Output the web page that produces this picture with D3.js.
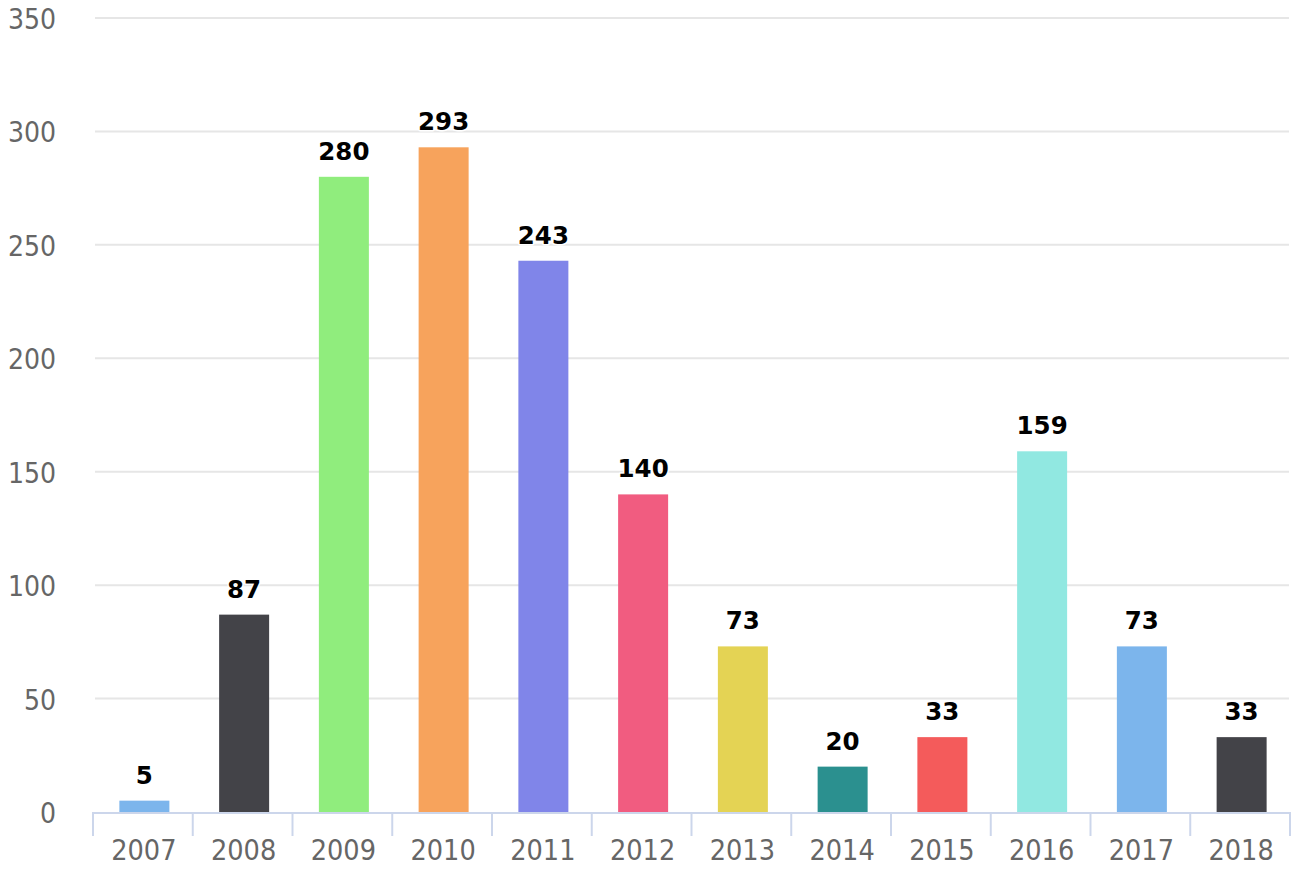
<!DOCTYPE html>
<html><head><meta charset="utf-8">
<script src="https://cdn.jsdelivr.net/npm/d3@7/dist/d3.min.js"></script>
<style>html,body{margin:0;padding:0;background:#fff;}svg{display:block;}</style>
</head><body>
<script>
const categories = ["2007","2008","2009","2010","2011","2012","2013","2014","2015","2016","2017","2018"];
const values = [5, 87, 280, 293, 243, 140, 73, 20, 33, 159, 73, 33];
const colors = ["#7cb5ec","#434348","#90ed7d","#f7a35c","#8085e9","#f15c80","#e4d354","#2b908f","#f45b5b","#91e8e1","#7cb5ec","#434348"];
const yTicks = [0, 50, 100, 150, 200, 250, 300, 350];

(function () {
const W = 1302, H = 876;
const pLeft = 93, pRight = 1290, pTop = 18, pBottom = 812;
const svg = d3.select("body").append("svg").attr("width", W).attr("height", H);
const axisFont = "'DejaVu Sans Condensed', 'DejaVu Sans', sans-serif";
const labelFont = "'DejaVu Sans', sans-serif";

const x = d3.scaleBand().domain(categories).range([pLeft, pRight]).padding(0);
const y = d3.scaleLinear().domain([0, 350]).range([pBottom, pTop]);

// gridlines
svg.append("g").selectAll("line").data(yTicks.filter(t => t > 0)).join("line")
  .attr("x1", pLeft + 2).attr("x2", pRight - 1)
  .attr("y1", d => y(d)).attr("y2", d => y(d))
  .attr("stroke", "#e6e6e6").attr("stroke-width", 2);

// y labels
svg.append("g").selectAll("text").data(yTicks).join("text")
  .attr("x", 56).attr("y", d => y(d) + 11)
  .attr("text-anchor", "end")
  .attr("font-family", axisFont).attr("font-stretch", "condensed")
  .attr("font-size", 28).attr("fill", "#666666")
  .text(d => d);

// bars
const barW = 50;
svg.append("g").selectAll("rect").data(values).join("rect")
  .attr("x", (d, i) => x(categories[i]) + (x.bandwidth() - barW) / 2 + 1.5)
  .attr("width", barW)
  .attr("y", d => y(d))
  .attr("height", d => y(0) - y(d))
  .attr("fill", (d, i) => colors[i]);

// x axis line & ticks
svg.append("line").attr("x1", pLeft).attr("x2", pRight).attr("y1", pBottom + 1).attr("y2", pBottom + 1)
  .attr("stroke", "#ccd6eb").attr("stroke-width", 2);
const tickPos = categories.map(c => x(c)).concat([pRight]);
svg.append("g").selectAll("line").data(tickPos).join("line")
  .attr("x1", d => d).attr("x2", d => d)
  .attr("y1", pBottom).attr("y2", pBottom + 24)
  .attr("stroke", "#ccd6eb").attr("stroke-width", 2);

// x labels
svg.append("g").selectAll("text").data(categories).join("text")
  .attr("x", d => x(d) + x.bandwidth() / 2 + 1)
  .attr("y", 860)
  .attr("text-anchor", "middle")
  .attr("font-family", axisFont).attr("font-stretch", "condensed")
  .attr("font-size", 28.5).attr("fill", "#666666")
  .text(d => d);

// data labels
svg.append("g").selectAll("text").data(values).join("text")
  .attr("x", (d, i) => x(categories[i]) + x.bandwidth() / 2 + 1.5)
  .attr("y", d => y(d) - 17)
  .attr("text-anchor", "middle")
  .attr("font-family", labelFont).attr("font-size", 24.5).attr("font-weight", "bold")
  .attr("fill", "#000000")
  .attr("stroke", "#ffffff").attr("stroke-width", 3).attr("paint-order", "stroke")
  .attr("stroke-linejoin", "round")
  .text(d => d);
})();
</script>
</body></html>
